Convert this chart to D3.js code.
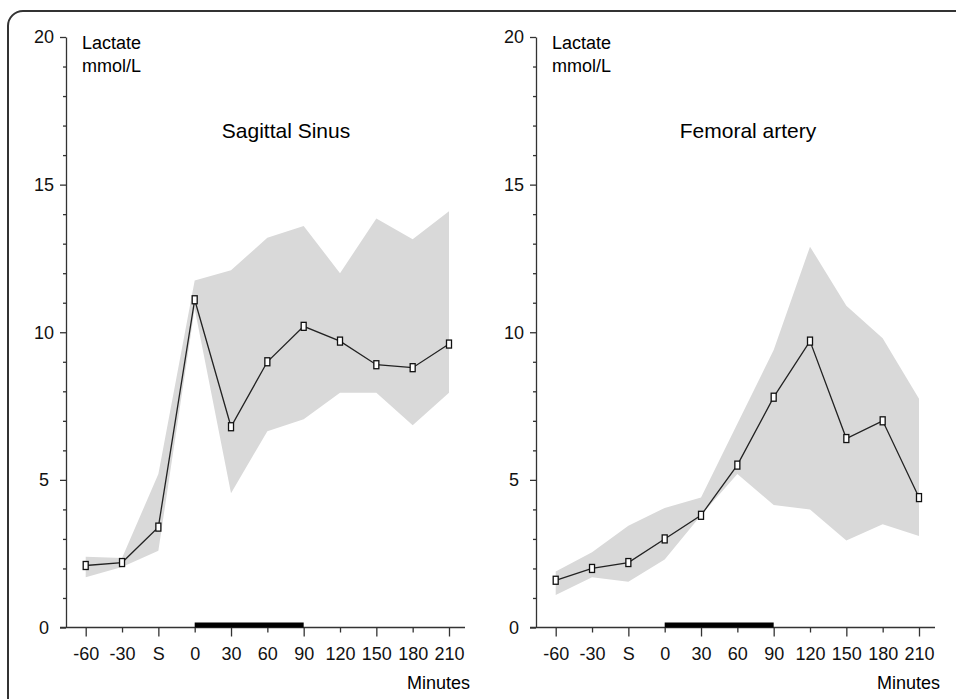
<!DOCTYPE html>
<html>
<head>
<meta charset="utf-8">
<script src="https://cdn.jsdelivr.net/npm/d3@7"></script>
<style>
  body { margin: 0; background: #fff; }
  svg { font-family: "Liberation Sans", Arial, sans-serif; }
</style>
</head>
<body>
<script>
// time points (S = stimulus / sample point before 0)
var categories = ["-60", "-30", "S", "0", "30", "60", "90", "120", "150", "180", "210"];
// treatment window drawn as black bar on the x axis
var barWindow = ["0", "90"];

// Sagittal sinus lactate, mmol/L
var sinusMean  = [2.1, 2.2, 3.4, 11.1, 6.8, 9.0, 10.2, 9.7, 8.9, 8.8, 9.6];
var sinusUpper = [2.4, 2.35, 5.2, 11.75, 12.1, 13.2, 13.6, 12.0, 13.85, 13.15, 14.1];
var sinusLower = [1.7, 2.05, 2.6, 10.8, 4.55, 6.65, 7.05, 7.95, 7.95, 6.85, 7.95];

// Femoral artery lactate, mmol/L
var femMean  = [1.6, 2.0, 2.2, 3.0, 3.8, 5.5, 7.8, 9.7, 6.4, 7.0, 4.4];
var femUpper = [1.9, 2.55, 3.45, 4.05, 4.4, 6.9, 9.4, 12.9, 10.9, 9.8, 7.75];
var femLower = [1.1, 1.7, 1.55, 2.3, 3.8, 5.2, 4.15, 4.0, 2.95, 3.5, 3.1];

var yTicks = d3.range(0, 21);

var svg = d3.select("body").append("svg")
    .attr("width", 956)
    .attr("height", 699);

// outer rounded frame (runs off the right and bottom edges)
svg.append("rect")
    .attr("x", 8).attr("y", 11)
    .attr("width", 980).attr("height", 720)
    .attr("rx", 15)
    .attr("fill", "none")
    .attr("stroke", "#333")
    .attr("stroke-width", 2);

function drawPanel(offsetX, title, mean, upper, lower) {
  var g = svg.append("g")
      .attr("transform", "translate(" + offsetX + ",0)");

  var axisX = 66;
  var x = d3.scalePoint()
      .domain(categories)
      .range([85.7, 449]);
  var y = d3.scaleLinear()
      .domain([0, 20])
      .range([627.5, 37]);

  var data = categories.map(function(c, i) {
    return {cat: c, mean: mean[i], hi: upper[i], lo: lower[i]};
  });

  // grey range band
  var area = d3.area()
      .x(function(d) { return x(d.cat); })
      .y0(function(d) { return y(d.lo); })
      .y1(function(d) { return y(d.hi); });
  g.append("path")
      .datum(data)
      .attr("d", area)
      .attr("fill", "#d9d9d9");

  // y axis
  var yAxis = g.append("g")
      .attr("transform", "translate(" + axisX + ",0)")
      .call(d3.axisLeft(y).tickValues(yTicks).tickSizeOuter(0)
        .tickFormat(function(d) { return d % 5 === 0 ? d : ""; }));
  yAxis.select(".domain").attr("stroke", "#333").attr("stroke-width", 1.3);
  yAxis.selectAll(".tick line")
      .attr("x2", function(d) { return d % 5 === 0 ? -6 : -3; })
      .attr("stroke", "#333").attr("stroke-width", 1.3);
  yAxis.selectAll(".tick text")
      .attr("x", -22)
      .attr("text-anchor", "middle")
      .attr("font-size", 18)
      .attr("font-family", null)
      .attr("fill", "#111");

  // x axis
  var xAxis = g.append("g")
      .attr("transform", "translate(0," + y(0) + ")")
      .call(d3.axisBottom(x).tickSizeOuter(0));
  xAxis.select(".domain").remove();
  xAxis.append("line")
      .attr("x1", axisX - 6).attr("x2", 465)
      .attr("stroke", "#333").attr("stroke-width", 1.3);
  xAxis.selectAll(".tick line")
      .attr("y2", function(d, i) { return i % 2 === 0 ? 9 : 5; })
      .attr("stroke", "#333").attr("stroke-width", 1.3);
  xAxis.selectAll(".tick text")
      .attr("y", 20)
      .attr("font-size", 18)
      .attr("font-family", null)
      .attr("fill", "#111");

  // black treatment bar
  g.append("rect")
      .attr("x", x(barWindow[0]))
      .attr("width", x(barWindow[1]) - x(barWindow[0]))
      .attr("y", y(0) - 5)
      .attr("height", 5)
      .attr("fill", "#000");

  // mean line
  var line = d3.line()
      .x(function(d) { return x(d.cat); })
      .y(function(d) { return y(d.mean); });
  g.append("path")
      .datum(data)
      .attr("d", line)
      .attr("fill", "none")
      .attr("stroke", "#222")
      .attr("stroke-width", 1.3);

  // small open rectangle markers
  g.selectAll(".pt")
      .data(data)
    .enter().append("rect")
      .attr("class", "pt")
      .attr("x", function(d) { return x(d.cat) - 2.5; })
      .attr("y", function(d) { return y(d.mean) - 4; })
      .attr("width", 5)
      .attr("height", 8)
      .attr("fill", "#fff")
      .attr("stroke", "#111")
      .attr("stroke-width", 1.3);

  // labels
  g.append("text")
      .attr("x", 82).attr("y", 49)
      .attr("font-size", 18)
      .text("Lactate");
  g.append("text")
      .attr("x", 82).attr("y", 72)
      .attr("font-size", 18)
      .text("mmol/L");
  g.append("text")
      .attr("x", title === "Sagittal Sinus" ? 286 : 278)
      .attr("y", 137.5)
      .attr("text-anchor", "middle")
      .attr("font-size", 21)
      .text(title);
  g.append("text")
      .attr("x", 470).attr("y", 689)
      .attr("text-anchor", "end")
      .attr("font-size", 18)
      .text("Minutes");
}

drawPanel(0, "Sagittal Sinus", sinusMean, sinusUpper, sinusLower);
drawPanel(470, "Femoral artery", femMean, femUpper, femLower);
</script>
</body>
</html>
